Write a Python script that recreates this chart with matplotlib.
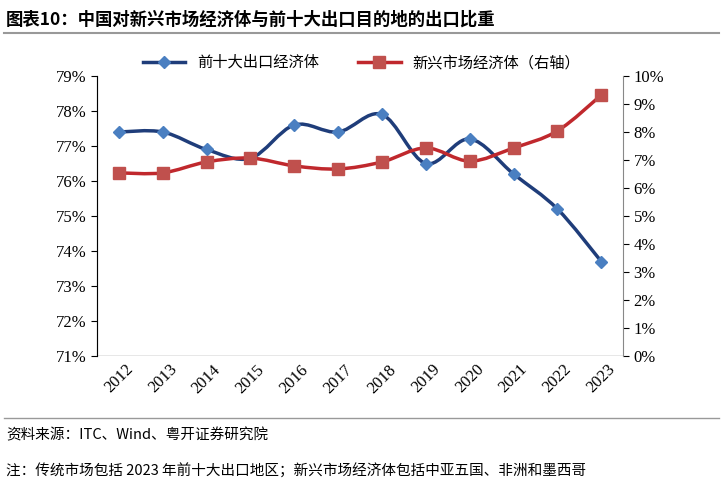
import matplotlib.pyplot as plt
import numpy as np
from matplotlib.path import Path
from matplotlib.patches import PathPatch
from matplotlib.lines import Line2D

years = ["2012", "2013", "2014", "2015", "2016", "2017", "2018", "2019", "2020", "2021", "2022", "2023"]
top10 = [77.4, 77.4, 76.9, 76.65, 77.6, 77.4, 77.9, 76.5, 77.2, 76.2, 75.2, 73.7]
emerging = [6.54, 6.54, 6.93, 7.07, 6.79, 6.68, 6.93, 7.43, 6.96, 7.43, 8.04, 9.32]

CJK = "Noto Sans CJK SC"
SERIF = "Liberation Serif"
BLUE = "#1f3d7a"
RED = "#c0282d"


def smooth(ax, x, y, color):
    # Catmull-Rom curve through the points, drawn as cubic Beziers
    x = np.asarray(x, float); y = np.asarray(y, float)
    verts = [(x[0], y[0])]; codes = [Path.MOVETO]
    t = 1 / 6
    for i in range(len(x) - 1):
        p0 = i - 1 if i > 0 else i
        p3 = i + 2 if i + 2 < len(x) else i + 1
        c1 = (x[i] + (x[i + 1] - x[p0]) * t, y[i] + (y[i + 1] - y[p0]) * t)
        c2 = (x[i + 1] - (x[p3] - x[i]) * t, y[i + 1] - (y[p3] - y[i]) * t)
        verts += [c1, c2, (x[i + 1], y[i + 1])]
        codes += [Path.CURVE4] * 3
    ax.add_patch(PathPatch(Path(verts, codes), fill=False, ec=color, lw=2.5, zorder=2))


fig = plt.figure(figsize=(7.23, 5), dpi=100)
ax = fig.add_axes([0.134, 0.288, 0.728, 0.56])
ax2 = ax.twinx()
xs = np.arange(len(years))

smooth(ax, xs, top10, BLUE)
ax.plot(xs, top10, ls="none", marker="D", ms=6, color="#4a7fc1", zorder=3)
smooth(ax2, xs, emerging, RED)
ax2.plot(xs, emerging, ls="none", marker="s", ms=8, color="#c0504d", zorder=3)

ax.set_xlim(-0.5, 11.5)
ax.set_ylim(71, 79)
ax2.set_ylim(0, 10)
ax.set_yticks(range(71, 80))
ax.set_yticklabels([f"{v}%" for v in range(71, 80)], fontfamily=SERIF, fontsize=12)
ax2.set_yticks(range(0, 11))
ax2.set_yticklabels([f"{v}%" for v in range(0, 11)], fontfamily=SERIF, fontsize=12)
ax.set_xticks(xs)
ax.set_xticklabels(years, rotation=45, fontfamily=SERIF, fontsize=12)
ax.tick_params(axis="x", length=0, pad=4)
ax.tick_params(axis="y", direction="out", length=4)
ax2.tick_params(axis="y", direction="out", length=4)
for s in ["top"]:
    ax.spines[s].set_visible(False); ax2.spines[s].set_visible(False)
ax.spines["right"].set_visible(False)
ax.spines["bottom"].set_visible(False); ax2.spines["bottom"].set_visible(False)
ax.axhline(71, color="#888888", lw=1, zorder=1)
for sp in [ax.spines["left"], ax2.spines["right"]]:
    sp.set_color("#888888")

handles = [Line2D([], [], color=BLUE, lw=2.5, marker="D", ms=6, mfc="#4a7fc1", mec="#4a7fc1"),
           Line2D([], [], color=RED, lw=2.5, marker="s", ms=8, mfc="#c0504d", mec="#c0504d")]
fig.legend(handles, ["前十大出口经济体", "新兴市场经济体（右轴）"], loc="center",
           bbox_to_anchor=(0.5, 0.875), ncol=2, frameon=False,
           prop={"family": CJK, "size": 11}, columnspacing=2.5, handlelength=2.8)

fig.text(0.008, 0.96, "图表10：中国对新兴市场经济体与前十大出口目的地的出口比重",
         fontfamily=CJK, fontsize=12.5, fontweight="bold", va="center")
fig.add_artist(Line2D([0.005, 0.995], [0.934, 0.934], color="#999999", lw=1.5))
fig.add_artist(Line2D([0.005, 0.995], [0.164, 0.164], color="#999999", lw=1))
fig.text(0.008, 0.13, "资料来源：ITC、Wind、粤开证券研究院", fontfamily=CJK,
         fontsize=10.5, style="italic", va="center")
fig.text(0.008, 0.057, "注：传统市场包括 2023 年前十大出口地区；新兴市场经济体包括中亚五国、非洲和墨西哥",
         fontfamily=CJK, fontsize=10.5, style="italic", va="center")

fig.savefig("out.png", dpi=100)
